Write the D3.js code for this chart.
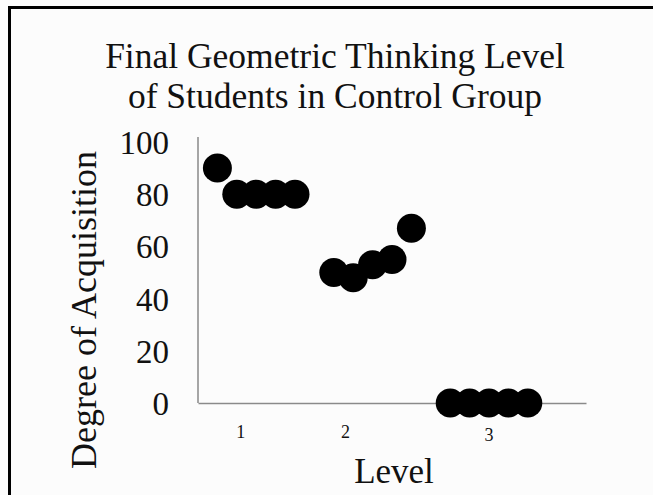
<!DOCTYPE html>
<html lang="en">
<head>
    <meta charset="UTF-8" />
    <title>Final Geometric Thinking Level</title>
    <script src="https://d3js.org/d3.v7.min.js"></script>
    <style>
        body { margin: 0; background: #fcfcfc; }
        svg { display: block; font-family: "Liberation Serif", "Times New Roman", serif; }
    </style>
</head>
<body>
    <div id="chart"></div>
    <script>
        // data: student index along x, degree of acquisition on y
        var studentIndex = [1, 2, 3, 4, 5, 7, 8, 9, 10, 11, 13, 14, 15, 16, 17];
        var acquisition  = [90, 80, 80, 80, 80, 50, 48, 53, 55, 67, 0, 0, 0, 0, 0];
        var yTicks = [0, 20, 40, 60, 80, 100];
        var levelLabels = ["1", "2", "3"];
        var levelLabelAt = [2.2, 7.6, 15];

        var w = 653, h = 495;

        var svg = d3.select("#chart")
            .append("svg")
            .attr("width", w)
            .attr("height", h);

        // frame (only left and top edges fall inside the picture)
        svg.append("rect")
            .attr("x", 9.5).attr("y", 7.5)
            .attr("width", w + 10).attr("height", h + 10)
            .attr("fill", "#fcfcfc")
            .attr("stroke", "#000")
            .attr("stroke-width", 3);

        var xScale = d3.scaleLinear().domain([0, 20]).range([198, 586]);
        var yScale = d3.scaleLinear().domain([0, 100]).range([403, 142]);

        // title
        svg.append("text")
            .attr("x", 335).attr("y", 68)
            .attr("text-anchor", "middle")
            .style("font-size", "35.5px")
            .attr("fill", "#111")
            .text("Final Geometric Thinking  Level");
        svg.append("text")
            .attr("x", 335).attr("y", 108)
            .attr("text-anchor", "middle")
            .style("font-size", "35.5px")
            .attr("fill", "#111")
            .text("of Students in Control Group");

        // axes lines (no tick marks)
        var yAxis = d3.axisLeft(yScale).tickValues(yTicks).tickSize(0).tickPadding(29);
        var gy = svg.append("g").attr("transform", "translate(198,0)").call(yAxis);
        gy.select(".domain").attr("stroke", "#8a8a8a").attr("stroke-width", 1.5)
            .attr("d", "M0," + (yScale(100) - 5) + "V" + yScale(0));
        gy.selectAll("text")
            .style("font-size", "33px")
            .style("font-family", "Liberation Serif")
            .attr("fill", "#111")
            .attr("dy", "0.35em");

        var xAxis = d3.axisBottom(xScale).tickValues([]).tickSize(0);
        var gx = svg.append("g").attr("transform", "translate(0,403)").call(xAxis);
        gx.select(".domain").attr("stroke", "#8a8a8a").attr("stroke-width", 1.5);

        // level labels below the axis
        svg.selectAll(".lvl")
            .data(levelLabels)
            .enter()
            .append("text")
            .attr("class", "lvl")
            .attr("x", function(d, i) { return xScale(levelLabelAt[i]); })
            .attr("y", function(d, i) { return i == 2 ? 441 : 438; })
            .attr("text-anchor", "middle")
            .style("font-size", "18px")
            .attr("fill", "#111")
            .text(function(d) { return d; });

        // axis titles
        svg.append("text")
            .attr("x", 394).attr("y", 483)
            .attr("text-anchor", "middle")
            .style("font-size", "35px")
            .attr("fill", "#111")
            .text("Level");
        svg.append("text")
            .attr("transform", "translate(96,310) rotate(-90)")
            .attr("text-anchor", "middle")
            .style("font-size", "36px")
            .attr("fill", "#111")
            .text("Degree of Acquisition");

        // points
        svg.selectAll("circle")
            .data(acquisition)
            .enter()
            .append("circle")
            .attr("cx", function(d, i) { return xScale(studentIndex[i]); })
            .attr("cy", function(d) { return yScale(d); })
            .attr("r", 14.5)
            .attr("fill", "#000");
    </script>
</body>
</html>
